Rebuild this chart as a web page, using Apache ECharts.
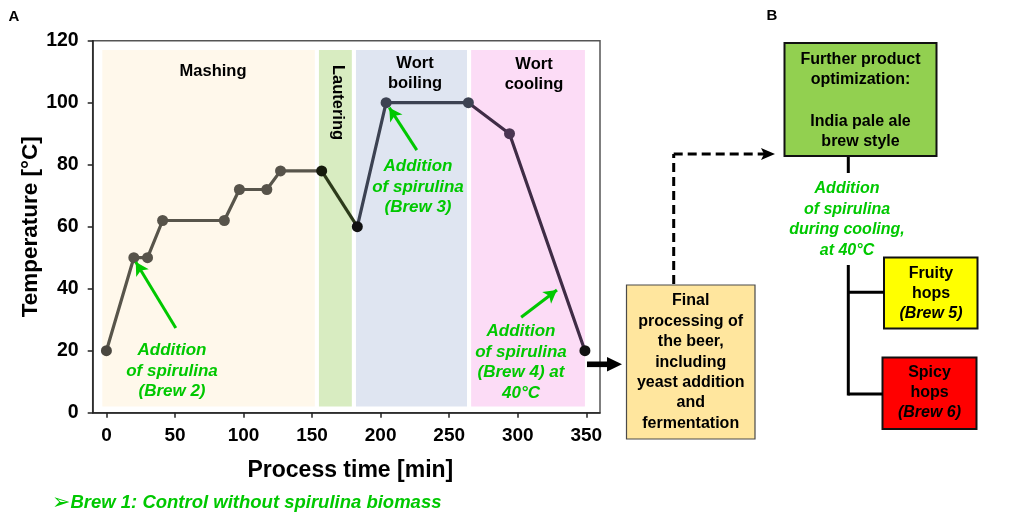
<!DOCTYPE html>
<html>
<head>
<meta charset="utf-8">
<script src="https://cdn.jsdelivr.net/npm/echarts/dist/echarts.min.js"></script>
<style>
html,body{margin:0;padding:0;background:#fff;}
#c{width:1021px;height:518px;}
</style>
</head>
<body>
<div id="c"></div>
<script>
// ---- data ----
const timeMin = [0, 20, 30, 41, 86, 97, 117, 127, 157, 183, 204, 264, 294, 349];
const tempC   = [20, 50, 50, 62, 62, 72, 72, 78, 78, 60, 100, 100, 90, 20];
const segStart = [0, 8, 9, 11];   // index ranges of the process phases on the curve
const segEnd   = [8, 9, 11, 13];
const phaseNames = ['Mashing', 'Lautering', 'Wort\nboiling', 'Wort\ncooling'];
const phaseFrom  = [-3, 155, 182, 266];
const phaseTo    = [152, 179, 263, 349];
const phaseBottom = 2, phaseTop = 117;
const xTicks = [0, 50, 100, 150, 200, 250, 300, 350];
const arrowTail = [[50.6, 27.3], [226.4, 84.7], [302.5, 30.8]];
const arrowHead = [[21.4, 48.6], [206.3, 98.4], [328.6, 39.6]];

// ---- styles ----
const FONT = '"Liberation Sans", Arial, "DejaVu Sans", sans-serif';
const GREEN = '#00c800';
const segColors = ['#58554b', '#2c3a1a', '#3c4252', '#3f2c46'];
const phaseColors = ['#fff8eb', '#d8ecc1', '#dfe5f1', '#fcdcf6'];
const pointColors = ['#4a4740','#57534a','#57534a','#57534a','#57534a','#57534a','#57534a','#57534a',
                     '#151a0c','#111111','#3c4252','#3c4252','#4a3552','#111111'];

const chart = echarts.init(document.getElementById('c'), null, {renderer: 'canvas'});

const allPts = timeMin.map((t, i) => [t, tempC[i]]);
const series = [];
segStart.forEach((s, k) => {
  series.push({
    type: 'line',
    data: allPts.slice(s, segEnd[k] + 1),
    showSymbol: false,
    lineStyle: {color: segColors[k], width: 3.2},
    z: 3,
    silent: true
  });
});
// phase bands
series[0].markArea = {
  silent: true,
  data: phaseFrom.map((f, i) => [
    {xAxis: f, yAxis: phaseBottom, itemStyle: {color: phaseColors[i]}},
    {xAxis: phaseTo[i], yAxis: phaseTop}
  ]),
  label: {show: false}
};
// green arrows
series[1].markLine = {
  silent: true,
  symbol: ['none', 'arrow'],
  symbolSize: [11, 13],
  label: {show: false},
  lineStyle: {color: GREEN, width: 3, type: 'solid'},
  data: arrowTail.map((t, i) => [{coord: t}, {coord: arrowHead[i]}])
};
series.push({
  type: 'scatter',
  data: allPts,
  symbolSize: 11,
  itemStyle: {color: p => pointColors[p.dataIndex], opacity: 1},
  z: 4,
  silent: true
});

function txt(x, y, text, opt) {
  return Object.assign({
    type: 'text', x: x, y: y, silent: true, z: 10,
    style: Object.assign({
      text: text, fill: '#000', fontFamily: FONT, fontWeight: 'bold', fontSize: 16,
      align: 'center', verticalAlign: 'top', lineHeight: 20.5
    }, opt || {})
  });
}
function line(x1, y1, x2, y2, opt) {
  return {type: 'line', silent: true, z: 10,
    shape: {x1: x1, y1: y1, x2: x2, y2: y2},
    style: Object.assign({stroke: '#000', lineWidth: 3}, opt || {})};
}
function rect(x, y, w, h, fill, stroke, lw) {
  return {type: 'rect', silent: true, z: 9, shape: {x: x, y: y, width: w, height: h},
    style: {fill: fill, stroke: stroke, lineWidth: lw}};
}

const greenStyle = {fill: GREEN, fontStyle: 'italic', fontSize: 17};

const graphics = [
  txt(14, 17, 'A', {fontSize: 15, verticalAlign: 'middle'}),
  txt(772, 16, 'B', {fontSize: 15, verticalAlign: 'middle'}),
  // phase labels
  txt(213, 71, phaseNames[0], {fontSize: 16.5, verticalAlign: 'middle'}),
  {type: 'text', x: 338, y: 102.5, rotation: -Math.PI / 2, silent: true, z: 10,
   style: {text: phaseNames[1], fill: '#000', fontFamily: FONT, fontWeight: 'bold', fontSize: 16.5,
           align: 'center', verticalAlign: 'middle'}},
  txt(415, 53, phaseNames[2], {fontSize: 16.5, lineHeight: 20}),
  txt(534, 54, phaseNames[3], {fontSize: 16.5, lineHeight: 20}),
  // green annotations in plot
  txt(172, 340.5, 'Addition\nof spirulina\n(Brew 2)', greenStyle),
  txt(418, 156.4, 'Addition\nof spirulina\n(Brew 3)', greenStyle),
  txt(521, 321.4, 'Addition\nof spirulina\n(Brew 4) at\n40°C', greenStyle),
  // Brew 1 note
  {type: 'text', x: 52, y: 503, silent: true, z: 10,
   style: {text: '{a|➢}{b|Brew 1: Control without spirulina biomass}', align: 'left', verticalAlign: 'middle',
     rich: {
       a: {fill: GREEN, fontFamily: '"DejaVu Sans", sans-serif', fontSize: 22, fontWeight: 'bold'},
       b: {fill: GREEN, fontFamily: FONT, fontSize: 18.5, fontWeight: 'bold', fontStyle: 'italic', padding: [0,0,0,0]}
     }}},
  // black arrow to final box
  {type: 'rect', silent: true, z: 10, shape: {x: 587, y: 361.5, width: 22, height: 5.6}, style: {fill: '#000'}},
  {type: 'polygon', silent: true, z: 10, shape: {points: [[607, 357], [622, 364.3], [607, 371.6]]}, style: {fill: '#000'}},
  // final processing box
  rect(626.5, 285, 128.5, 154, '#ffe69e', '#4a4a4a', 1.2),
  txt(690.7, 290.8, 'Final\nprocessing of\nthe beer,\nincluding\nyeast addition\nand\nfermentation', {fontSize: 16, lineHeight: 20.4}),
  // dashed connector
  line(673.7, 284, 673.7, 154, {lineDash: [9, 5], lineWidth: 3}),
  line(673.7, 154, 764, 154, {lineDash: [9, 5], lineWidth: 3}),
  {type: 'polygon', silent: true, z: 10, shape: {points: [[761, 148], [775, 154], [761, 160], [764, 154]]}, style: {fill: '#000'}},
  // green box
  rect(784.5, 43, 152, 113, '#92d050', '#111', 2),
  txt(860.5, 49, 'Further product\noptimization:\n\nIndia pale ale\nbrew style', {fontSize: 16, lineHeight: 20.6}),
  line(848.3, 157, 848.3, 173),
  txt(847, 178.7, 'Addition\nof spirulina\nduring cooling,\nat 40°C', {fill: GREEN, fontStyle: 'italic', fontSize: 16, lineHeight: 20.5}),
  // tree
  line(848.3, 265, 848.3, 395.5),
  line(848.3, 292.3, 884, 292.3),
  line(848.3, 394, 883, 394),
  rect(884, 257.5, 93.5, 71, '#ffff00', '#111', 2),
  {type: 'text', x: 931, y: 263.3, silent: true, z: 10,
   style: {text: '{n|Fruity}\n{n|hops}\n{i|(Brew 5)}', align: 'center', verticalAlign: 'top',
     rich: {n: {fill: '#000', fontFamily: FONT, fontWeight: 'bold', fontSize: 16, lineHeight: 20, align: 'center'},
            i: {fill: '#000', fontFamily: FONT, fontWeight: 'bold', fontStyle: 'italic', fontSize: 16, lineHeight: 20, align: 'center'}}}},
  rect(882.5, 357.5, 94, 71.5, '#ff0000', '#111', 2),
  {type: 'text', x: 929.5, y: 362.7, silent: true, z: 10,
   style: {text: '{n|Spicy}\n{n|hops}\n{i|(Brew 6)}', align: 'center', verticalAlign: 'top',
     rich: {n: {fill: '#000', fontFamily: FONT, fontWeight: 'bold', fontSize: 16, lineHeight: 20, align: 'center'},
            i: {fill: '#000', fontFamily: FONT, fontWeight: 'bold', fontStyle: 'italic', fontSize: 16, lineHeight: 20, align: 'center'}}}}
];

chart.setOption({
  animation: false,
  backgroundColor: '#fff',
  grid: {left: 92.7, top: 40.7, right: 421, bottom: 105.3, show: true, borderColor: '#555', borderWidth: 1.5, backgroundColor: 'transparent'},
  xAxis: {
    type: 'value', min: -10, max: 360,
    name: 'Process time [min]', nameLocation: 'middle', nameGap: 46,
    nameTextStyle: {fontFamily: FONT, fontWeight: 'bold', fontSize: 23, color: '#000', padding: [0, 0, 0, 8]},
    axisLine: {show: true, onZero: false, lineStyle: {color: '#222', width: 1.5}},
    axisTick: {show: true, customValues: xTicks, length: 5, lineStyle: {color: '#222', width: 1.5}},
    axisLabel: {customValues: xTicks, margin: 14, fontFamily: FONT, fontWeight: 'bold', fontSize: 19, color: '#000'},
    splitLine: {show: false}
  },
  yAxis: {
    type: 'value', min: 0, max: 120, interval: 20,
    name: 'Temperature [°C]', nameLocation: 'middle', nameGap: 49,
    nameTextStyle: {fontFamily: FONT, fontWeight: 'bold', fontSize: 22.5, color: '#000'},
    axisLine: {show: true, onZero: false, lineStyle: {color: '#222', width: 1.5}},
    axisTick: {show: true, length: 5, lineStyle: {color: '#222', width: 1.5}},
    axisLabel: {margin: 14, fontFamily: FONT, fontWeight: 'bold', fontSize: 19.5, color: '#000'},
    splitLine: {show: false}
  },
  series: series,
  graphic: graphics
});
</script>
</body>
</html>
